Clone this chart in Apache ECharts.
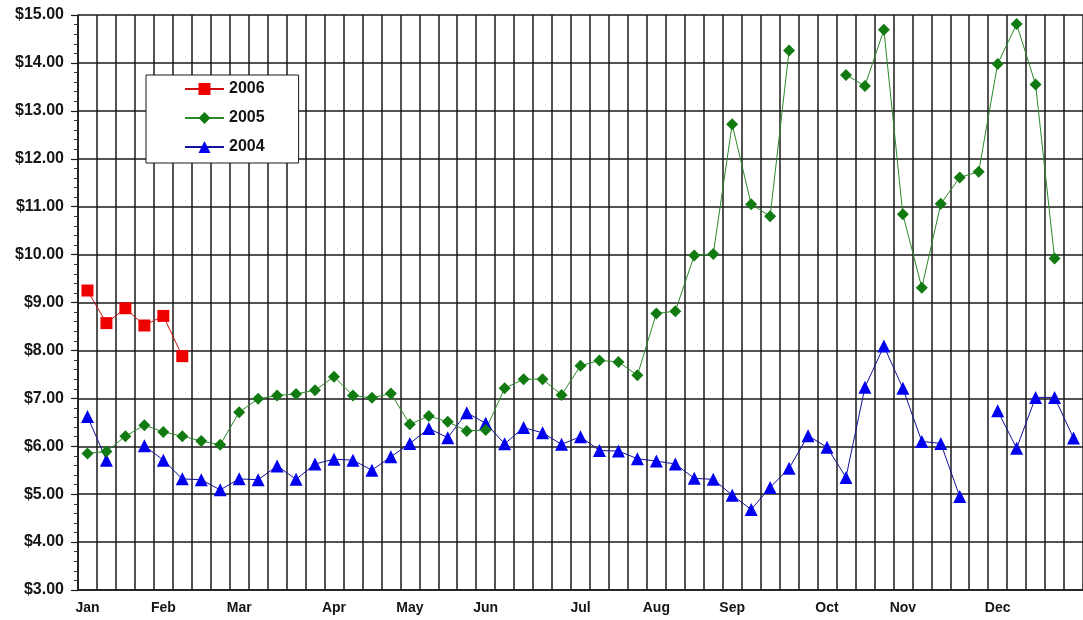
<!DOCTYPE html>
<html>
<head>
<meta charset="utf-8">
<script src="https://cdn.jsdelivr.net/npm/echarts@6/dist/echarts.min.js"></script>
<style>
html,body{margin:0;padding:0;background:#fff;}
#c{width:1083px;height:620px;}
</style>
</head>
<body>
<div id="c"></div>
<script>
// Week slots (53 weekly cells); month names shown at the first week of each month
const weekLabels = ['Jan','','','','Feb','','','','Mar','','','','','Apr','','','','May','','','','Jun','','','','','Jul','','','','Aug','','','','Sep','','','','','Oct','','','','Nov','','','','','Dec','','','',''];
const seriesNames = ['2006','2005','2004'];
const s2006 = [9.25,8.57,8.88,8.52,8.72,7.88,null,null,null,null,
  null,null,null,null,null,null,null,null,null,null,
  null,null,null,null,null,null,null,null,null,null,
  null,null,null,null,null,null,null,null,null,null,
  null,null,null,null,null,null,null,null,null,null,
  null,null,null];
const s2005 = [5.85,5.89,6.21,6.44,6.30,6.21,6.11,6.03,6.71,6.99,
  7.06,7.09,7.17,7.45,7.06,7.01,7.10,6.46,6.63,6.51,
  6.32,6.34,7.21,7.40,7.40,7.07,7.68,7.79,7.76,7.48,
  8.77,8.82,9.98,10.01,12.72,11.05,10.80,14.26,null,null,
  13.75,13.52,14.69,10.84,9.31,11.06,11.61,11.73,13.98,14.81,
  13.55,9.92,null];
const s2004 = [6.62,5.71,null,6.01,5.71,5.32,5.30,5.09,5.32,5.30,
  5.59,5.31,5.63,5.73,5.71,5.50,5.78,6.06,6.37,6.18,
  6.70,6.48,6.05,6.39,6.28,6.04,6.20,5.91,5.90,5.74,
  5.69,5.63,5.33,5.31,4.98,4.68,5.14,5.54,6.22,5.98,
  5.35,7.23,8.09,7.21,6.10,6.06,4.95,null,6.74,5.96,
  7.02,7.02,6.17];
const yMin = 3, yMax = 15, yStep = 1;

const chart = echarts.init(document.getElementById('c'), null, {renderer:'canvas'});
const font = 'Liberation Sans, Arial, sans-serif';
const gridColor = '#1a1a1a';
chart.setOption({
  animation: false,
  backgroundColor: '#ffffff',
  grid: {left: 78, top: 15, bottom: 30, right: -4, containLabel: false},
  legend: {
    data: seriesNames,
    orient: 'vertical',
    left: 146, top: 75,
    padding: [6, 34, 8, 38],
    itemWidth: 39, itemHeight: 15, itemGap: 13,
    backgroundColor: '#ffffff',
    borderColor: '#1a1a1a', borderWidth: 1,
    textStyle: {fontFamily: font, fontSize: 16, fontWeight: 'bold', color: '#151515', lineHeight: 16}
  },
  xAxis: {
    type: 'category',
    data: weekLabels.map((m, i) => 'w' + (i + 1)),
    boundaryGap: true,
    axisLine: {show: true, lineStyle: {color: gridColor, width: 1.5}},
    axisTick: {show: false},
    axisLabel: {
      interval: 0, margin: 11,
      fontFamily: font, fontSize: 14, fontWeight: 'bold', color: '#151515',
      formatter: (v, i) => weekLabels[i]
    },
    splitLine: {show: true, interval: 0, lineStyle: {color: gridColor, width: 1.5}}
  },
  yAxis: {
    type: 'value', min: yMin, max: yMax, interval: yStep,
    axisLine: {show: true, lineStyle: {color: gridColor, width: 1.5}},
    axisTick: {show: true, inside: false, length: 7, lineStyle: {color: gridColor, width: 1.2}},
    minorTick: {show: true, splitNumber: 5, length: 4, lineStyle: {color: '#333', width: 1}},
    axisLabel: {
      margin: 14, fontFamily: font, fontSize: 16, fontWeight: 'bold', color: '#151515',
      formatter: v => '$' + v.toFixed(2)
    },
    splitLine: {show: true, lineStyle: {color: gridColor, width: 1.5}}
  },
  series: [
    {name: '2004', type: 'line', data: s2004, connectNulls: false,
     symbol: 'triangle', symbolSize: 13,
     itemStyle: {color: '#0000ee'}, lineStyle: {color: '#10109a', width: 1}},
    {name: '2005', type: 'line', data: s2005, connectNulls: false,
     symbol: 'diamond', symbolSize: 12,
     itemStyle: {color: '#117a11'}, lineStyle: {color: '#2a8a2a', width: 1}},
    {name: '2006', type: 'line', data: s2006, connectNulls: false,
     symbol: 'rect', symbolSize: 12,
     itemStyle: {color: '#ee0000'}, lineStyle: {color: '#cc1010', width: 1}}
  ]
});
</script>
</body>
</html>
